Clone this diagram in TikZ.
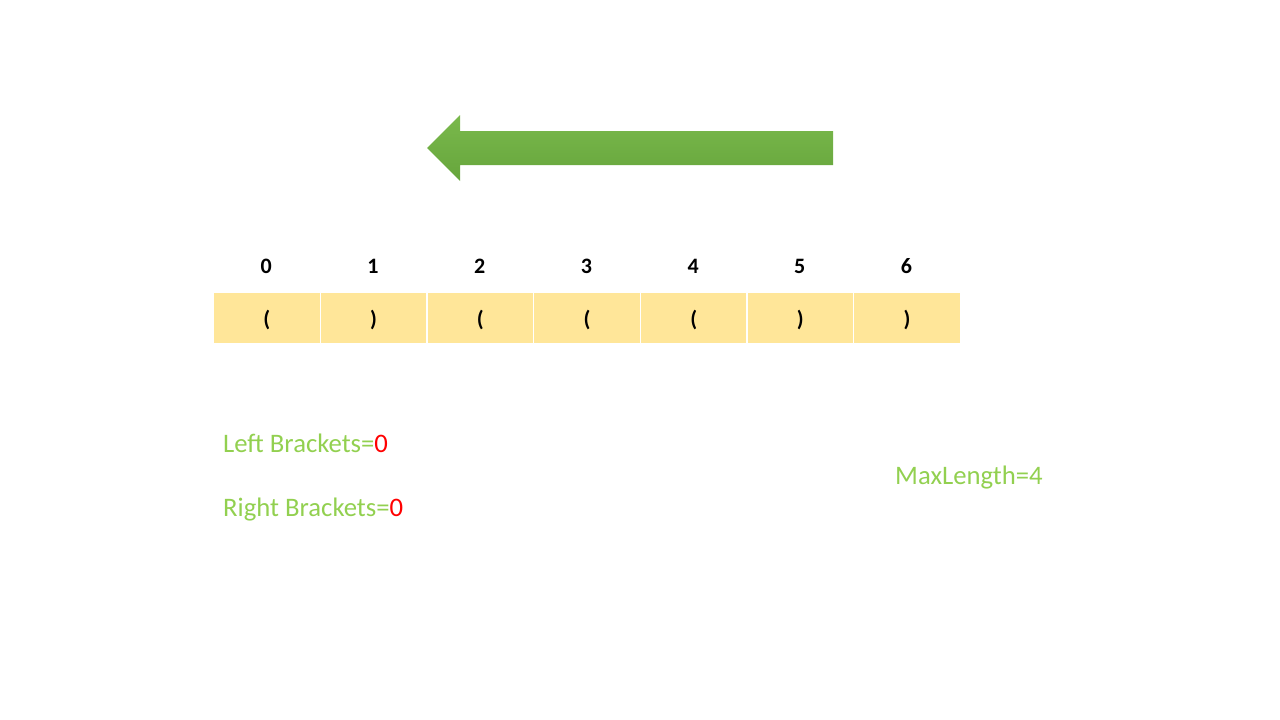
\documentclass[tikz,border=0pt]{standalone}
\usepackage{fontspec}
\setmainfont{Carlito}
\definecolor{cellfill}{HTML}{FFE699}
\definecolor{txtgreen}{HTML}{92D050}
\definecolor{arrtop}{HTML}{7AB94C}
\definecolor{arrbot}{HTML}{66A53C}
\tikzset{
  cellbox/.style={fill=cellfill, draw=white, line width=1.2pt, minimum width=106.6pt, minimum height=51pt, inner sep=0pt, text height=20pt, text depth=2pt, anchor=north west, font=\fontsize{22}{26}\selectfont\bfseries},
  idxlabel/.style={font=\fontsize{22}{26}\selectfont\bfseries, inner sep=0pt},
  infotext/.style={font=\fontsize{26.7}{30}\selectfont, text=txtgreen, anchor=base west, inner sep=0pt},
}
\begin{document}
\begin{tikzpicture}[x=1pt,y=-1pt]
\useasboundingbox (0,0) rectangle (1280,720);
% arrow
\shade[top color=arrtop, bottom color=arrbot] (833,131) -- (460,131) -- (460,115) -- (427,148) -- (460,181) -- (460,165) -- (833,165) -- cycle;
% cells
\foreach \i/\c in {0/(,1/),2/(,3/(,4/(,5/),6/)} {
  \node[cellbox] (c\i) at ({213+\i*106.7},291.5) {\c};
  \node[idxlabel] (n\i) at ({213+\i*106.7+53.3},266) {\i};
}
% info texts
\node[infotext] (lb) at (223,452) {Left Brackets=\textcolor{red}{0}};
\node[infotext] (rb) at (223,516) {Right Brackets=\textcolor{red}{0}};
\node[infotext] (ml) at (895,484) {MaxLength=4};
\end{tikzpicture}
\end{document}
